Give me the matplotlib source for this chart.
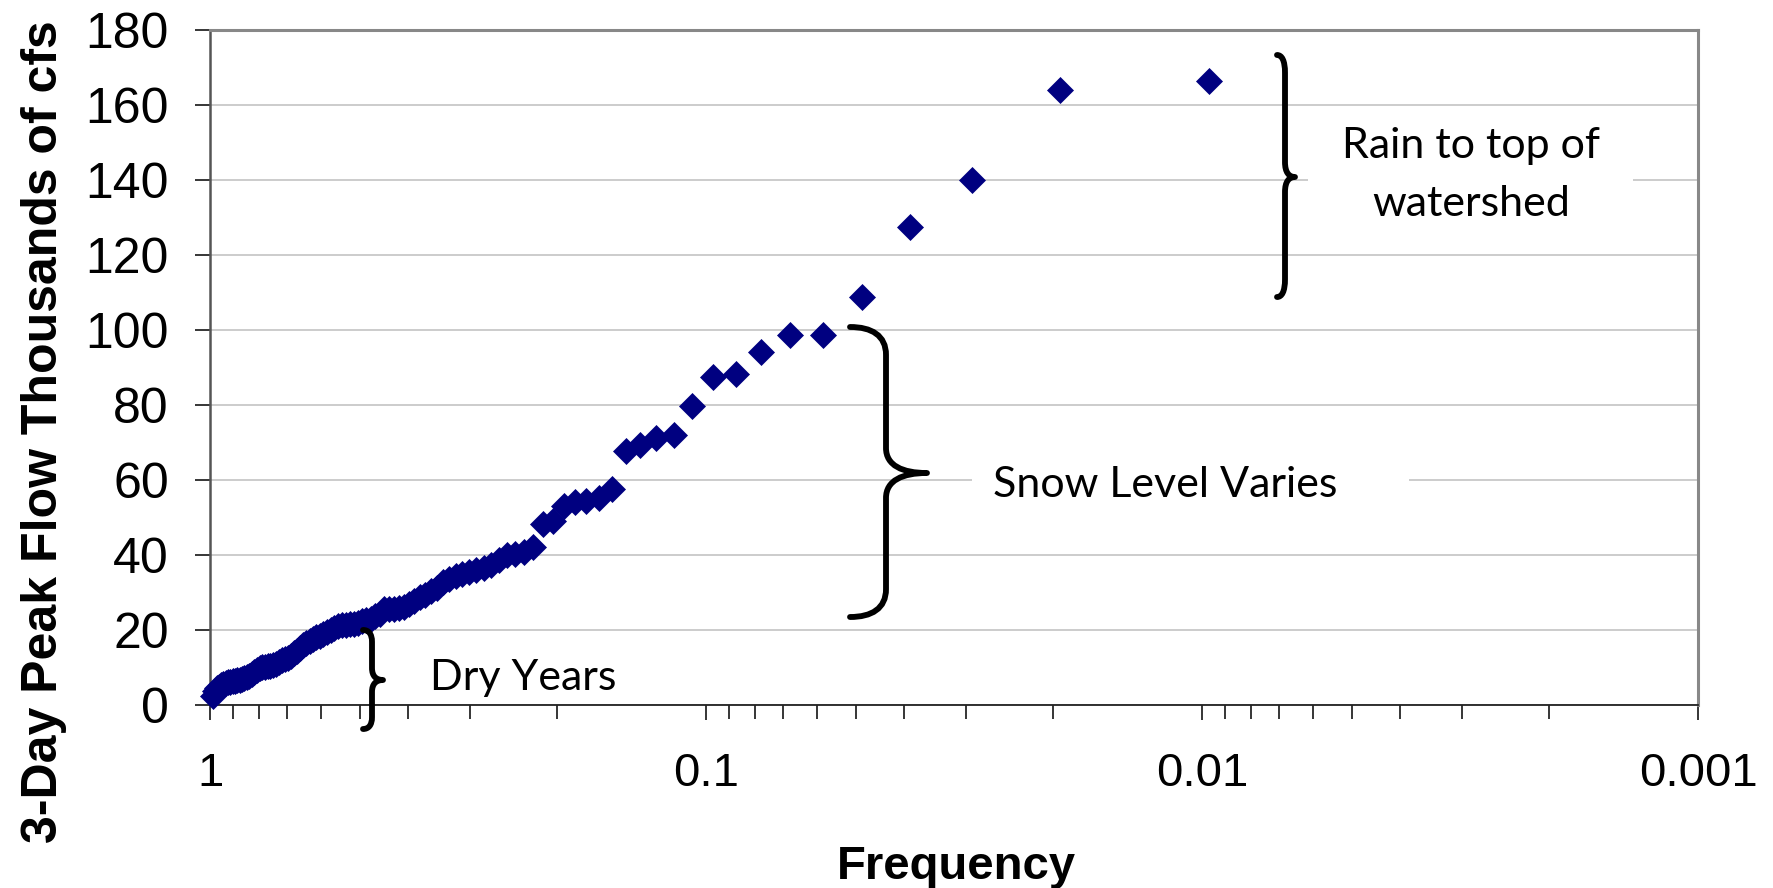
import matplotlib
matplotlib.use("Agg")
import matplotlib.pyplot as plt
from matplotlib.path import Path
from matplotlib.patches import PathPatch, Rectangle
from matplotlib.transforms import Affine2D
from matplotlib.ticker import FixedLocator, FixedFormatter, LogLocator, NullFormatter

# ---------------- data ----------------
frequency = [
    0.00971, 0.01942, 0.02913, 0.03883, 0.04854, 0.05825, 0.06796, 0.07767,
    0.08738, 0.09709, 0.10680, 0.11650, 0.12621, 0.13592, 0.14563, 0.15534,
    0.16505, 0.17476, 0.18447, 0.19417, 0.20388, 0.21359, 0.22330, 0.23301,
    0.24272, 0.25243, 0.26214, 0.27184, 0.28155, 0.29126, 0.30097, 0.31068,
    0.32039, 0.33010, 0.33981, 0.34951, 0.35922, 0.36893, 0.37864, 0.38835,
    0.39806, 0.40777, 0.41748, 0.42718, 0.43689, 0.44660, 0.45631, 0.46602,
    0.47573, 0.48544, 0.49515, 0.50485, 0.51456, 0.52427, 0.53398, 0.54369,
    0.55340, 0.56311, 0.57282, 0.58252, 0.59223, 0.60194, 0.61165, 0.62136,
    0.63107, 0.64078, 0.65049, 0.66019, 0.66990, 0.67961, 0.68932, 0.69903,
    0.70874, 0.71845, 0.72816, 0.73786, 0.74757, 0.75728, 0.76699, 0.77670,
    0.78641, 0.79612, 0.80583, 0.81553, 0.82524, 0.83495, 0.84466, 0.85437,
    0.86408, 0.87379, 0.88350, 0.89320, 0.90291, 0.91262, 0.92233, 0.93204,
    0.94175, 0.95146, 0.96117, 0.97087, 0.98058, 0.99029,
]
peak_flow = [
    166.6, 164.1, 140.2, 127.4, 108.7, 98.6, 98.6, 94.2,
    88.2, 87.4, 79.7, 71.9, 71.1, 69.4, 67.8, 57.6,
    55.2, 54.3, 54.0, 53.0, 49.0, 48.3, 42.0, 40.8,
    40.2, 39.8, 38.5, 37.3, 36.4, 35.8, 35.3, 34.8,
    34.2, 33.5, 32.6, 31.2, 30.2, 29.3, 28.8, 27.6,
    26.8, 26.0, 25.7, 25.6, 25.5, 25.4, 24.3, 23.6,
    22.8, 22.6, 22.3, 21.8, 21.6, 21.4, 21.3, 21.2,
    21.0, 20.3, 19.9, 19.3, 18.7, 18.3, 18.0, 17.5,
    17.0, 16.4, 15.8, 15.1, 14.4, 13.7, 13.0, 12.4,
    12.2, 11.9, 11.3, 10.9, 10.6, 10.3, 10.2, 10.1,
    10.0, 9.7, 9.2, 8.7, 8.2, 7.7, 7.4, 7.1,
    6.8, 6.6, 6.5, 6.4, 6.3, 6.1, 5.9, 5.7,
    5.5, 5.2, 4.8, 4.4, 3.6, 2.4,
]
x_major_ticks = [1, 0.1, 0.01, 0.001]
x_tick_labels = ["1", "0.1", "0.01", "0.001"]
y_ticks = [0, 20, 40, 60, 80, 100, 120, 140, 160, 180]
x_label = "Frequency"
y_label = "3-Day Peak Flow Thousands of cfs"
note_dry = "Dry Years"
note_snow = "Snow Level Varies"
note_rain = ["Rain to top of", "watershed"]

# ---------------- figure ----------------
W, H = 1774, 888
fig = plt.figure(figsize=(W / 100, H / 100), dpi=100)
fig.patch.set_facecolor("white")
LEFT, RIGHT, TOP, BOTTOM = 210.5, 1698.5, 30.5, 704.5
ax = fig.add_axes([LEFT / W, 1 - BOTTOM / H, (RIGHT - LEFT) / W, (BOTTOM - TOP) / H])

# pixel transform (origin top-left, y down)
pix = Affine2D().scale(1 / W, -1 / H).translate(0, 1) + fig.transFigure

ax.plot(frequency, peak_flow, linestyle="none", marker="D", ms=13.2,
        mfc="#000080", mec="#000080", mew=0.5, clip_on=False, zorder=3)

ax.set_xscale("log")
ax.set_xlim(1, 0.001)
ax.set_ylim(0, 180)

ax.xaxis.set_major_locator(FixedLocator(x_major_ticks))
ax.xaxis.set_major_formatter(FixedFormatter(x_tick_labels))
ax.xaxis.set_minor_locator(LogLocator(base=10, subs=[2, 3, 4, 5, 6, 7, 8, 9], numticks=20))
ax.xaxis.set_minor_formatter(NullFormatter())
ax.set_yticks(y_ticks)

tick_font = "Liberation Sans"
for lab in ax.get_xticklabels() + ax.get_yticklabels():
    lab.set_fontfamily(tick_font)
ax.tick_params(axis="y", which="major", length=11, width=1.1, pad=19,
               labelsize=36, colors="black", direction="out")
ax.tick_params(axis="x", which="major", length=11, width=1.1, pad=23,
               labelsize=34, colors="black", direction="out")
ax.tick_params(axis="x", which="minor", length=10, width=1.1, direction="out",
               colors="black")

ax.yaxis.grid(True, color="#c8c8c8", linewidth=1.3, zorder=0)
ax.set_axisbelow(True)

ax.spines["left"].set_color("#555555")
ax.spines["left"].set_linewidth(1.8)
ax.spines["bottom"].set_color("#222222")
ax.spines["bottom"].set_linewidth(1.3)
ax.spines["top"].set_color("#888888")
ax.spines["top"].set_linewidth(2.2)
ax.spines["right"].set_color("#888888")
ax.spines["right"].set_linewidth(2.2)

fig.text(44, 431.5, y_label, transform=pix, rotation=90, ha="center", va="center",
         fontsize=36, fontweight="bold", family=tick_font)
fig.text(956, 879, x_label, transform=pix, ha="center", va="baseline",
         fontsize=34, fontweight="bold", family=tick_font)

# ---------------- annotations ----------------
def brace(x_end, x_line, x_tip, y_top, y_mid, y_bot, r_end, r_mid):
    verts = [
        (x_end, y_top),
        (x_end + 0.6 * (x_line - x_end), y_top), (x_line, y_top + 0.3 * r_end), (x_line, y_top + r_end),
        (x_line, y_mid - r_mid),
        (x_line, y_mid - 0.3 * r_mid), (x_line + 0.4 * (x_tip - x_line), y_mid), (x_tip, y_mid),
        (x_line + 0.4 * (x_tip - x_line), y_mid), (x_line, y_mid + 0.3 * r_mid), (x_line, y_mid + r_mid),
        (x_line, y_bot - r_end),
        (x_line, y_bot - 0.3 * r_end), (x_end + 0.6 * (x_line - x_end), y_bot), (x_end, y_bot),
    ]
    codes = [Path.MOVETO,
             Path.CURVE4, Path.CURVE4, Path.CURVE4,
             Path.LINETO,
             Path.CURVE4, Path.CURVE4, Path.CURVE4,
             Path.CURVE4, Path.CURVE4, Path.CURVE4,
             Path.LINETO,
             Path.CURVE4, Path.CURVE4, Path.CURVE4]
    p = PathPatch(Path(verts, codes), transform=pix, facecolor="none",
                  edgecolor="black", linewidth=4.2, capstyle="round", joinstyle="round")
    fig.add_artist(p)

# white text boxes that interrupt the gridlines (pixel coords, y down)
for (x0, y0, x1, y1) in [(972, 445, 1409, 515), (1308, 120, 1633, 240)]:
    fig.add_artist(Rectangle((x0, y0), x1 - x0, y1 - y0, transform=pix,
                             facecolor="white", edgecolor="none"))

brace(363, 372, 383, 630, 680, 729, 12, 12)
brace(850, 886, 927, 327, 473, 617, 28, 25)
brace(1277, 1285, 1295, 55, 177, 297, 18, 15)

note_font = "Lato"
fig.text(523, 690, note_dry, transform=pix, ha="center", va="baseline",
         fontsize=31, family=note_font)
fig.text(1165, 497, note_snow, transform=pix, ha="center", va="baseline",
         fontsize=31, family=note_font)
fig.text(1471, 158, note_rain[0], transform=pix, ha="center", va="baseline",
         fontsize=31, family=note_font)
fig.text(1471, 216, note_rain[1], transform=pix, ha="center", va="baseline",
         fontsize=31, family=note_font)

fig.savefig("out.png", dpi=100, facecolor="white")
